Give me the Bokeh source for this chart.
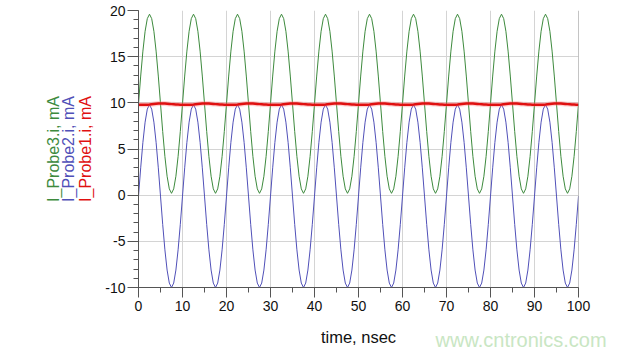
from bokeh.plotting import figure
from bokeh.models import (Range1d, SingleIntervalTicker, LinearAxis, FixedTicker,
                          Label, Span, CustomJSTickFormatter)
from bokeh.embed import file_html
from bokeh.resources import INLINE

t_step = 0.5
n_periods = 10
probe3_period = [9.9, 12.9, 15.6, 17.75, 19.12, 19.6, 19.12, 17.75, 15.6, 12.9,
                 9.9, 6.9, 4.2, 2.05, 0.68, 0.2, 0.68, 2.05, 4.2, 6.9]
probe2_period = [-0.1, 2.96, 5.72, 7.91, 9.32, 9.8, 9.32, 7.91, 5.72, 2.96,
                 -0.1, -3.16, -5.92, -8.11, -9.52, -10.0, -9.52, -8.11, -5.92, -3.16]
probe1_period = [9.80, 9.79, 9.78, 9.78, 9.79, 9.81, 9.84, 9.87, 9.90, 9.92,
                 9.93, 9.93, 9.92, 9.90, 9.88, 9.86, 9.84, 9.82, 9.81, 9.80]

probe3 = probe3_period * n_periods + [probe3_period[0]]
probe2 = probe2_period * n_periods + [probe2_period[0]]
probe1 = probe1_period * n_periods + [probe1_period[0]]
time_ns = [i * t_step for i in range(len(probe3))]

x_ticks_interval = 10
y_ticks_interval = 5

GREEN = "#3d8a3d"
BLUE = "#5050b8"
RED = "#e01010"

p = figure(width=618, height=356, output_backend="svg", toolbar_location=None,
           x_range=Range1d(0, 100), y_range=Range1d(-10, 20),
           min_border_left=138, min_border_right=40, min_border_top=10,
           min_border_bottom=69, background_fill_color="white",
           border_fill_color="white")
p.outline_line_color = None

p.xaxis.ticker = SingleIntervalTicker(interval=x_ticks_interval, num_minor_ticks=2)
p.yaxis.ticker = SingleIntervalTicker(interval=y_ticks_interval, num_minor_ticks=5)
p.yaxis.formatter = CustomJSTickFormatter(code="return tick.toString()")

for ax in (p.xaxis[0], p.yaxis[0]):
    ax.axis_line_color = "#555555"
    ax.major_tick_line_color = "#555555"
    ax.minor_tick_line_color = "#555555"
    ax.major_tick_in = 0
    ax.minor_tick_in = 0
    ax.major_tick_out = 11
    ax.minor_tick_out = 5
    ax.major_label_text_font = "Liberation Sans"
    ax.major_label_text_font_size = "14px"
    ax.major_label_text_color = "#111111"
    ax.major_label_standoff = 2

p.xaxis.major_tick_out = 10
p.xaxis.major_label_standoff = 3

p.xgrid.grid_line_color = "#d4d4d4"
p.ygrid.grid_line_color = "#d4d4d4"

# right border line
p.add_layout(Span(location=100, dimension="height", line_color="#8a8a8a", line_width=1))

# coloured y-axis labels (one axis per label)
for txt, col, standoff in [("I_Probe1.i, mA", RED, 9),
                           ("I_Probe2.i, mA", BLUE, -3),
                           ("I_Probe3.i, mA", GREEN, -5)]:
    ax = LinearAxis(ticker=FixedTicker(ticks=[]), axis_label=txt,
                    axis_label_text_color=col, axis_line_color=None,
                    major_tick_line_color=None, minor_tick_line_color=None,
                    axis_label_standoff=standoff,
                    axis_label_text_font="Liberation Sans",
                    axis_label_text_font_size="16px",
                    axis_label_text_font_style="normal",
                    major_label_text_font_size="0px")
    p.add_layout(ax, "left")

p.line(time_ns, probe3, line_color=GREEN, line_width=1)
p.line(time_ns, probe2, line_color=BLUE, line_width=1)
p.line(time_ns, probe1, line_color="#ff8080", line_width=5, line_alpha=0.35)
p.line(time_ns, probe1, line_color=RED, line_width=2.5)

# x-axis title and watermark as labels in the panels below the axis
p.add_layout(Label(x=220, y=-5, x_units="screen", y_units="screen",
                   text="time, nsec", text_font="Liberation Sans",
                   text_font_size="16.5px", text_color="#111111",
                   text_baseline="middle", text_align="center"), "below")
p.add_layout(Label(x=297, y=14, x_units="screen", y_units="screen",
                   text="www.cntronics.com", text_font="Liberation Sans",
                   text_font_size="20px", text_color="#c9e6c3",
                   text_baseline="middle", text_align="left"), "below")

open("out.html", "w").write(file_html(p, INLINE))
